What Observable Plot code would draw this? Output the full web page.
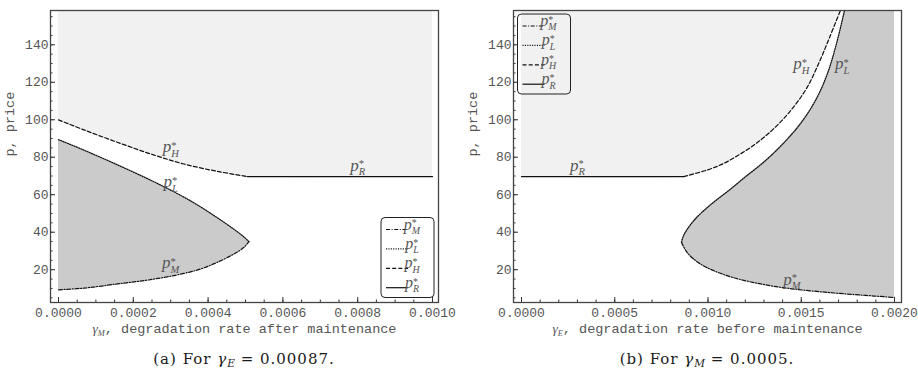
<!DOCTYPE html>
<html>
<head>
<meta charset="utf-8">
<script src="https://cdn.jsdelivr.net/npm/d3@7"></script>
<script src="https://cdn.jsdelivr.net/npm/@observablehq/plot@0.6"></script>
<style>
  html, body { margin: 0; padding: 0; background: #fff; }
  #figure { position: relative; width: 918px; height: 368px; overflow: hidden; }
  .panel { position: absolute; top: 0; width: 459px; height: 368px; }
  .panel svg { position: absolute; left: 0; top: 0; overflow: visible; }
  .caption { position: absolute; top: 350px; height: 18px; line-height: 18px; text-align: center;
    font-family: "DejaVu Serif", "Liberation Serif", serif; font-size: 15px; letter-spacing: 1px;
    color: #1a1a1a; white-space: nowrap; }
  .caption sub { font-size: 10.5px; vertical-align: -3px; line-height: 0; letter-spacing: 0; }
</style>
</head>
<body>
<div id="figure"></div>
<script>
// ---------- Panel (a): optimal prices against γ_M, for γ_E = 0.00087 ----------
const aGammaH = [0, 0.000068, 0.000157, 0.000246, 0.000335, 0.000424, 0.000505];
const aPriceH = [99.9, 94.6, 88.0, 81.8, 76.4, 72.5, 69.7];
const aGammaR = [0.000505, 0.001];
const aPriceR = [69.7, 69.7];
const aGammaL = [0, 0.000068, 0.000157, 0.000246, 0.00033, 0.00038, 0.000424, 0.000469, 0.000495, 0.000509];
const aPriceL = [89.4, 83.8, 76.0, 67.8, 59.3, 53.5, 47.8, 41.6, 37.6, 35.0];
const aGammaM = [0, 0.000068, 0.000157, 0.000246, 0.000335, 0.00038, 0.000424, 0.000469, 0.000495, 0.000509];
const aPriceM = [9.3, 10.2, 12.4, 14.7, 18.0, 20.4, 23.9, 28.4, 31.8, 35.0];
const aTicks = [0, 0.0002, 0.0004, 0.0006, 0.0008, 0.001];
const aRange = [0, 0.001];

// ---------- Panel (b): optimal prices against γ_E, for γ_M = 0.0005 ----------
const bGammaR = [0, 0.00087];
const bPriceR = [69.7, 69.7];
const bGammaH = [0.00087, 0.000996, 0.00108, 0.00117, 0.00126, 0.00135, 0.00144, 0.00153, 0.0016, 0.00165, 0.00171];
const bPriceH = [69.7, 73.2, 76.5, 81.5, 87.5, 95.0, 104.5, 117.0, 131.5, 143.5, 158.3];
const bGammaL = [0.000858, 0.00087, 0.000924, 0.001013, 0.001112, 0.0012, 0.0013, 0.0014, 0.0015, 0.00158, 0.00164, 0.00169, 0.001732];
const bPriceL = [34.6, 38.4, 46.2, 54.6, 62.3, 69.5, 77.5, 87.0, 98.5, 111.0, 124.5, 141.0, 158.3];
const bGammaM = [0.000858, 0.000888, 0.00096, 0.001103, 0.001282, 0.001461, 0.001639, 0.001818, 0.002];
const bPriceM = [34.6, 29.2, 23.0, 16.8, 12.4, 9.7, 7.9, 6.5, 5.2];
const bTicks = [0, 0.0005, 0.001, 0.0015, 0.002];
const bRange = [0, 0.002];

// ---------- shared price axis ----------
const priceRange = [2.5, 158.3];
const priceTicks = [20, 40, 60, 80, 100, 120, 140];
const legendOrder = ["M", "L", "H", "R"];

const dashes = { M: "4,1.6,1,1.6", L: "1.1,1.3", H: "4,2.2", R: null };
const MATH_FONT = "'Liberation Serif', 'DejaVu Serif', serif";
const MONO_FONT = "'Liberation Mono', 'DejaVu Sans Mono', monospace";

const pts = (xs, ps) => xs.map((x, i) => ({x, p: ps[i]}));

// Writes "a_{b}^{c}" style strings as SVG tspans (stacked sub/superscripts).
function richText(node, src) {
  const size = parseFloat(getComputedStyle(node).fontSize);
  const t = d3.select(node);
  t.text(null);
  const small = size * 0.62;
  const down = size * 0.28, up = size * 0.2;
  let offset = 0, pad = 0;
  const parts = src.split(/(_\{[^}]*\}(?:\^\{[^}]*\})?)/).filter(Boolean);
  for (const part of parts) {
    const m = part.match(/^_\{([^}]*)\}(?:\^\{([^}]*)\})?$/);
    if (m) {
      const sub = t.append("tspan").attr("dy", down - offset).attr("font-size", small)
        .attr("font-family", MATH_FONT).attr("font-style", "italic").text(m[1]);
      offset = down;
      if (m[2] !== undefined) {
        const w = sub.node().getComputedTextLength();
        const sup = t.append("tspan").attr("dx", -w).attr("dy", -(down + up)).attr("font-size", small)
          .attr("font-family", MATH_FONT).attr("font-style", "normal").text(m[2]);
        offset = -up;
        pad = Math.max(0, w - sup.node().getComputedTextLength());
      }
    } else {
      for (const piece of part.split(/([\u0370-\u03ff])/).filter(Boolean)) {
        const s = t.append("tspan").attr("dy", -offset).attr("dx", pad).text(piece);
        offset = 0; pad = 0;
        if (/[\u0370-\u03ff]/.test(piece)) s.attr("font-family", MATH_FONT).attr("font-style", "italic");
      }
    }
  }
}

function drawLegend(svg, left, top) {
  const g = d3.select(svg).append("g").attr("transform", `translate(${left},${top})`);
  g.append("rect").attr("width", 53).attr("height", 80).attr("rx", 4)
    .attr("fill", "none").attr("stroke", "#222").attr("stroke-width", 1);
  legendOrder.forEach((k, i) => {
    const y = 12 + i * 19.4;
    g.append("line").attr("x1", 5).attr("x2", 27).attr("y1", y).attr("y2", y)
      .attr("stroke", "#111").attr("stroke-width", 1.2).attr("stroke-dasharray", dashes[k]);
    const t = g.append("text").attr("x", 31).attr("y", y).attr("dy", "0.3em")
      .attr("font-family", MATH_FONT).attr("font-style", "italic").attr("font-size", 16)
      .attr("fill", "#555");
    richText(t.node(), `p_{${k}}^{*}`);
  });
}

const W = 459, H = 340, MT = 10, MB = 38;

function panel(cfg) {
  const FW = W - cfg.marginLeft - cfg.marginRight;
  const FH = H - MT - MB;
  const curveMark = (data, k) => Plot.line(data, {
    x: "x", y: "p", curve: "catmull-rom", stroke: "#111", strokeWidth: 1.25,
    strokeDasharray: dashes[k], clip: true
  });
  const xMinor = d3.range(cfg.range[0], cfg.range[1] + cfg.minorStep / 2, cfg.minorStep);
  const yMinor = d3.range(5, 156, 5);
  return Plot.plot({
    width: W, height: H,
    marginLeft: cfg.marginLeft, marginRight: cfg.marginRight, marginTop: MT, marginBottom: MB,
    style: { fontFamily: MONO_FONT, fontSize: "13px", color: "#555", background: "#fff" },
    x: { domain: cfg.range, insetLeft: 8, insetRight: cfg.insetRight },
    y: { domain: priceRange },
    marks: [
      // region above p_R / p_H
      Plot.areaY(cfg.light, { x: "x", y1: "p", y2: priceRange[1], fill: "#f1f1f1", curve: "catmull-rom", clip: true }),
      // region bounded by p_M and p_L
      Plot.areaX(cfg.dark, { y: "p", x1: cfg.darkX1, x2: cfg.darkX2, fill: "#cbcbcb", curve: "catmull-rom", clip: true }),
      ...cfg.curves.map(([data, k]) => curveMark(data, k)),
      Plot.text(cfg.labels, {
        x: "x", y: "p", text: d => `p_{${d.k}}^{*}`, fontFamily: MATH_FONT, fontStyle: "italic",
        fontSize: 17, fill: "#555", dy: -3
      }),
      // inward tick marks
      Plot.tickY(yMinor, { y: d => d, insetRight: FW - 2.5, stroke: "#333" }),
      Plot.tickY(priceTicks, { y: d => d, insetRight: FW - 5, stroke: "#333" }),
      Plot.tickX(xMinor, { x: d => d, insetTop: FH - 2.5, stroke: "#333" }),
      Plot.tickX(cfg.ticks, { x: d => d, insetTop: FH - 5, stroke: "#333" }),
      Plot.axisY(priceTicks, { tickSize: 0, tickPadding: 2, label: null, color: "#555", fontSize: 13 }),
      Plot.axisX(cfg.ticks, { tickSize: 0, tickPadding: 5, label: null, color: "#555", fontSize: 13,
        tickFormat: d => d.toFixed(4) }),
      Plot.text([cfg.xLabel], { text: d => d, frameAnchor: "bottom", dy: 30, fontSize: 13.5, fill: "#555" }),
      Plot.text(["p, price"], { text: d => d, frameAnchor: "left", rotate: -90, dx: -41, fontSize: 13.5, fill: "#555" }),
      Plot.frame({ stroke: "#444", strokeWidth: 1.3 })
    ]
  });
}

const aH = pts(aGammaH, aPriceH), aR = pts(aGammaR, aPriceR);
const aL = pts(aGammaL, aPriceL), aM = pts(aGammaM, aPriceM);
const bH = pts(bGammaH, bPriceH), bR = pts(bGammaR, bPriceR);
const bL = pts(bGammaL, bPriceL), bM = pts(bGammaM, bPriceM);

const panels = [
  {
    left: 0, marginLeft: 50, marginRight: 21, insetRight: 6, range: aRange, ticks: aTicks, minorStep: 0.00005,
    xLabel: "γ_{M}, degradation rate after maintenance",
    light: [...aH, ...aR.slice(1)],
    dark: [...aM, ...aL.slice(0, -1).reverse()], darkX1: aRange[0], darkX2: "x",
    curves: [[aM, "M"], [aL, "L"], [aH, "H"], [aR, "R"]],
    labels: [{x: 0.0003, p: 84.0, k: "H"}, {x: 0.0003, p: 65.3, k: "L"}, {x: 0.0008, p: 74.2, k: "R"}, {x: 0.0003, p: 22.1, k: "M"}],
    legend: [381, 217.5],
    caption: "(a) For <i>γ</i><sub><i>E</i></sub> = 0.00087."
  },
  {
    left: 459, marginLeft: 54, marginRight: 17, insetRight: 7, range: bRange, ticks: bTicks, minorStep: 0.0001,
    xLabel: "γ_{E}, degradation rate before maintenance",
    light: [...bR, ...bH.slice(1)],
    dark: [...bM.slice().reverse(), ...bL.slice(1)], darkX1: "x", darkX2: bRange[1],
    curves: [[bM, "M"], [bL, "L"], [bH, "H"], [bR, "R"]],
    labels: [{x: 0.0003, p: 74.2, k: "R"}, {x: 0.0015, p: 128.4, k: "H"}, {x: 0.00172, p: 128.4, k: "L"}, {x: 0.00145, p: 13.3, k: "M"}],
    legend: [58.5, 14],
    caption: "(b) For <i>γ</i><sub><i>M</i></sub> = 0.0005."
  }
];

const fig = document.getElementById("figure");
for (const cfg of panels) {
  const div = document.createElement("div");
  div.className = "panel";
  div.style.left = cfg.left + "px";
  fig.appendChild(div);
  const svg = panel(cfg);
  div.appendChild(svg);
  d3.select(svg).selectAll("text").each(function () {
    const s = this.textContent;
    if (s.includes("_{")) richText(this, s);
  });
  drawLegend(svg, cfg.legend[0], cfg.legend[1]);
  const cap = document.createElement("div");
  cap.className = "caption";
  cap.style.left = cfg.marginLeft + "px";
  cap.style.width = (W - cfg.marginLeft - cfg.marginRight) + "px";
  cap.innerHTML = cfg.caption;
  div.appendChild(cap);
}
</script>
</body>
</html>
